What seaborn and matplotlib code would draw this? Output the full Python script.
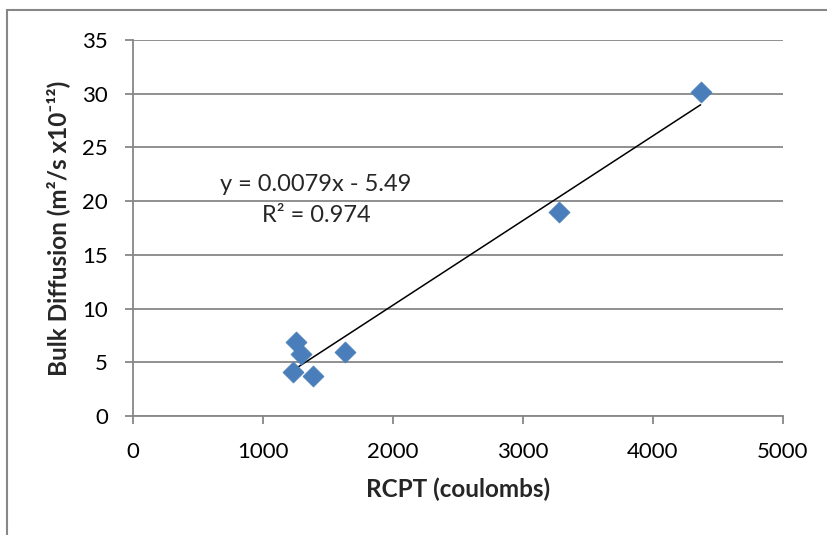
###################################################################################################
# Required Libraries
###################################################################################################
import numpy as np
import pandas as pd
import matplotlib
matplotlib.use("Agg")
import matplotlib.pyplot as plt
from matplotlib.patches import Rectangle
import seaborn as sns

###################################################################################################
# Chart data
###################################################################################################
rcpt = [1228, 1256, 1289, 1386, 1634, 3280, 4366]
diffusion = [4.13, 6.92, 5.81, 3.74, 5.97, 18.97, 30.14]

x_ticks = [0, 1000, 2000, 3000, 4000, 5000]
y_ticks = [0, 5, 10, 15, 20, 25, 30, 35]

equation_text = "y = 0.0079x - 5.49"
r2_text = "R\u00b2 = 0.974"
x_label = "RCPT (coulombs)"
y_label = "Bulk Diffusion (m\u00b2/s x10\u207b\u00b9\u00b2)"

marker_color = "#4A7EBB"
grid_color = "#878787"

###################################################################################################
# Style
###################################################################################################
sns.set_style("white")
plt.rcParams["font.family"] = ["Lato", "DejaVu Sans"]


###################################################################################################
# Function name = draw_chart
# description = scatter of bulk diffusion vs RCPT with linear trend line
###################################################################################################
def draw_chart():
    df = pd.DataFrame({"rcpt": rcpt, "diffusion": diffusion})

    fig = plt.figure(figsize=(8.27, 5.35), dpi=100)
    ax = fig.add_axes([133 / 827, 1 - 416 / 535, 650 / 827, 376 / 535])

    # trend line (least squares, drawn over the data range only)
    sns.regplot(data=df, x="rcpt", y="diffusion", ax=ax, scatter=False, ci=None,
                truncate=True, color="black", line_kws={"lw": 1.1, "zorder": 3})

    sns.scatterplot(data=df, x="rcpt", y="diffusion", ax=ax, marker="D", s=115,
                    color=marker_color, edgecolor=marker_color, linewidth=0.5, zorder=4)

    ax.set_xlim(0, 5000)
    ax.set_ylim(0, 35)
    ax.set_xticks(x_ticks)
    ax.set_yticks(y_ticks)
    ax.set_xticklabels([str(v) for v in x_ticks])
    ax.set_yticklabels([str(v) for v in y_ticks])

    ax.yaxis.grid(True, color=grid_color, lw=1.3)
    ax.xaxis.grid(False)
    ax.set_axisbelow(True)

    for side in ["top", "right"]:
        ax.spines[side].set_visible(False)
    for side in ["left", "bottom"]:
        ax.spines[side].set_color(grid_color)
        ax.spines[side].set_linewidth(1.3)

    ax.tick_params(axis="both", direction="out", length=6, width=1.3, color=grid_color,
                   labelsize=16, labelcolor="black")
    ax.tick_params(axis="y", pad=12, left=True)
    ax.tick_params(axis="x", pad=13, bottom=True)

    ax.set_xlabel(x_label, fontsize=17.5, fontweight="bold", labelpad=11)
    ax.set_ylabel(y_label, fontsize=17.5, fontweight="bold", labelpad=9)

    ax.text(0.2815, 0.617, equation_text, transform=ax.transAxes, ha="center", va="center",
            fontsize=17)
    ax.text(0.2815, 0.532, r2_text, transform=ax.transAxes, ha="center", va="center",
            fontsize=17)

    # chart-area border (cut by the image edges on right and bottom)
    fig.patches.append(Rectangle((7 / 827, -0.2), 1.3, 1.2 - 10 / 535,
                                 transform=fig.transFigure, fill=False,
                                 edgecolor=grid_color, lw=1.5, clip_on=False))

    fig.savefig("out.png", dpi=100)


###################################################################################################
# application starter
###################################################################################################
if __name__ == "__main__":
    draw_chart()
